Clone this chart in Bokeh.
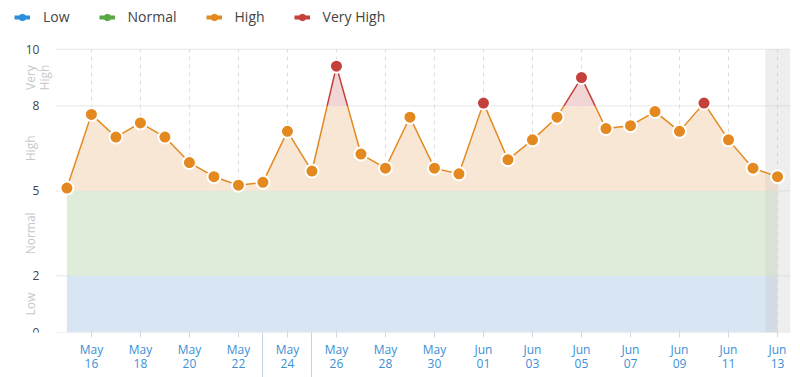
import numpy as np
from bokeh.plotting import figure
from bokeh.models import (Legend, LegendItem, FixedTicker, Range1d, LinearAxis)
from bokeh.core.properties import value
from bokeh.embed import file_html
from bokeh.resources import INLINE

# ---------------- data ----------------
dates = ["May 15", "May 16", "May 17", "May 18", "May 19", "May 20", "May 21", "May 22",
         "May 23", "May 24", "May 25", "May 26", "May 27", "May 28", "May 29", "May 30",
         "May 31", "Jun 01", "Jun 02", "Jun 03", "Jun 04", "Jun 05", "Jun 06", "Jun 07",
         "Jun 08", "Jun 09", "Jun 10", "Jun 11", "Jun 12", "Jun 13"]
values = [5.1, 7.7, 6.9, 7.4, 6.9, 6.0, 5.5, 5.2, 5.3, 7.1, 5.7, 9.4, 6.3, 5.8, 7.6,
          5.8, 5.6, 8.1, 6.1, 6.8, 7.6, 9.0, 7.2, 7.3, 7.8, 7.1, 8.1, 6.8, 5.8, 5.5]
band_names = ["Low", "Normal", "High", "Very High"]
band_edges = [0, 2, 5, 8, 10]
band_colors = ["#2d8fdb", "#5aa745", "#e3891f", "#c4403a"]
band_fills = ["#d3e3f1", "#dce9d5", "#f8e4cf", "#efd0cf"]
band_axis_labels = [["Low"], ["Normal"], ["High"], ["Very", "High"]]
tick_dates = dates[1::2]
marker_dates = ["May 23", "May 25"]
incomplete_dates = ["Jun 12", "Jun 13"]

FONT = "Open Sans"

# layout constants (in x-index / y-value units)
X_MIN, X_MAX = -2.71, len(values) - 1 + 0.53
Y_TOP = 11.72
GRID_LEFT = -0.47
NUM_X = -1.12
BAND_X = [-1.49, -0.9]

# ---------------- derived ----------------
x = np.arange(len(values), dtype=float)
v = np.array(values, dtype=float)

xs, ys = [x[0]], [v[0]]
for i in range(len(v) - 1):
    x0, x1, v0, v1 = x[i], x[i + 1], v[i], v[i + 1]
    cross = []
    for e in band_edges[1:-1]:
        if (v0 - e) * (v1 - e) < 0:
            t = (e - v0) / (v1 - v0)
            cross.append((x0 + t * (x1 - x0), float(e)))
    cross.sort()
    for cx, cy in cross:
        xs.append(cx); ys.append(cy)
    xs.append(x1); ys.append(v1)
xs = np.array(xs); ys = np.array(ys)

def band_of(val):
    for i in range(len(band_edges) - 1):
        if val < band_edges[i + 1]:
            return i
    return len(band_edges) - 2

p = figure(width=792, height=377, output_backend="svg", toolbar_location=None,
           x_range=Range1d(X_MIN, X_MAX), y_range=Range1d(0, Y_TOP),
           x_axis_location=None, y_axis_location=None,
           min_border_left=0, min_border_right=2, min_border_top=0, min_border_bottom=44)
p.outline_line_color = None
p.xgrid.visible = False
p.ygrid.visible = False

tick_idx = [dates.index(d) for d in tick_dates]

# grid lines
p.segment(x0=[GRID_LEFT] * len(band_edges), x1=[X_MAX] * len(band_edges),
          y0=band_edges, y1=band_edges, line_color="#e6e6e6", line_width=1)
p.segment(x0=tick_idx, x1=tick_idx, y0=[band_edges[0]] * len(tick_idx),
          y1=[band_edges[-1]] * len(tick_idx), line_color="#dcdcdc", line_width=1,
          line_dash="4 4")

# band areas
for i in range(len(band_names)):
    lo, hi = band_edges[i], band_edges[i + 1]
    y2 = np.clip(ys, lo, hi)
    p.varea(x=list(xs), y1=[float(lo)] * len(xs), y2=list(y2),
            fill_color=band_fills[i], fill_alpha=0.88)

# incomplete-data region (over the bands, under the line)
inc_left = (dates.index(incomplete_dates[0]) + dates.index(incomplete_dates[1])) / 2
p.quad(left=[inc_left], right=[X_MAX], bottom=[band_edges[0]], top=[band_edges[-1]],
       fill_color="#c8c8c8", fill_alpha=0.3, line_color=None)

# line by band
for i in range(len(band_names)):
    lo, hi = band_edges[i], band_edges[i + 1]
    segx, segy = [], []
    for j in range(len(xs) - 1):
        if lo <= ys[j] <= hi and lo <= ys[j + 1] <= hi:
            segx.append([float(xs[j]), float(xs[j + 1])])
            segy.append([float(ys[j]), float(ys[j + 1])])
    if segx:
        p.multi_line(xs=segx, ys=segy, line_color=band_colors[i], line_width=1.5)

pt_colors = [band_colors[band_of(val)] for val in v]
p.scatter(x=list(x), y=values, size=13, fill_color=pt_colors, line_color="white", line_width=2)

# y tick numbers
p.text(x=[NUM_X] * len(band_edges), y=band_edges, text=[str(e) for e in band_edges],
       text_align="right", text_baseline="middle", text_font=value(FONT),
       text_font_size="12px", text_color="#444444")

# rotated band labels
for i, lines in enumerate(band_axis_labels):
    mid = (band_edges[i] + band_edges[i + 1]) / 2
    for k, txt in enumerate(lines):
        p.text(x=[BAND_X[k]], y=[mid], text=[txt], angle=np.pi / 2,
               text_align="center", text_baseline="middle", text_font=value(FONT),
               text_font_size="12px", text_color="#c8c8c8")

# x axes: month line, day line, event markers
ax_month = LinearAxis(ticker=FixedTicker(ticks=tick_idx),
                      major_label_overrides={i: dates[i].split(" ")[0] for i in tick_idx})
ax_day = LinearAxis(ticker=FixedTicker(ticks=tick_idx),
                    major_label_overrides={i: dates[i].split(" ")[1] for i in tick_idx})
for ax in (ax_month, ax_day):
    ax.minor_tick_line_color = None
    ax.major_label_text_font = FONT
    ax.major_label_text_font_size = "12px"
    ax.major_label_text_color = "#3a8fd6"
    ax.axis_line_color = None
ax_month.major_tick_line_color = "#cfd8e0"
ax_month.major_tick_out = 5
ax_month.major_tick_in = 0
ax_month.major_label_standoff = 3
ax_day.major_tick_line_color = None
ax_day.major_tick_out = 0
ax_day.major_tick_in = 0
ax_day.major_label_standoff = -2
marker_idx = [dates.index(d) for d in marker_dates]
ax_mark = LinearAxis(ticker=FixedTicker(ticks=marker_idx),
                     major_label_overrides={i: "" for i in marker_idx})
ax_mark.axis_line_color = None
ax_mark.minor_tick_line_color = None
ax_mark.major_tick_line_color = "#c5d3e2"
ax_mark.major_tick_out = 7
ax_mark.major_tick_in = 38
ax_mark.major_label_text_font_size = "1px"
ax_mark.major_label_standoff = 0
p.add_layout(ax_month, "below")
p.add_layout(ax_day, "below")
p.add_layout(ax_mark, "below")

# legend inside the (extended) frame, at the top
items = []
for i, name in enumerate(band_names):
    lr = p.line(x=[X_MIN - 5, X_MIN - 4], y=[-10, -10], line_color=band_colors[i], line_width=4)
    sr = p.scatter(x=[X_MIN - 5], y=[-10], size=9, fill_color=band_colors[i],
                   line_color=band_colors[i])
    items.append(LegendItem(label=name, renderers=[lr, sr]))
legend = Legend(items=items, orientation="horizontal", location=(14, 306),
                label_text_font=FONT, label_text_font_size="14px", label_text_color="#444444",
                glyph_width=16, glyph_height=16, label_standoff=13, spacing=29,
                padding=0, margin=0, border_line_color=None, background_fill_alpha=0)
p.add_layout(legend)

open("out.html", "w").write(file_html(p, INLINE))
